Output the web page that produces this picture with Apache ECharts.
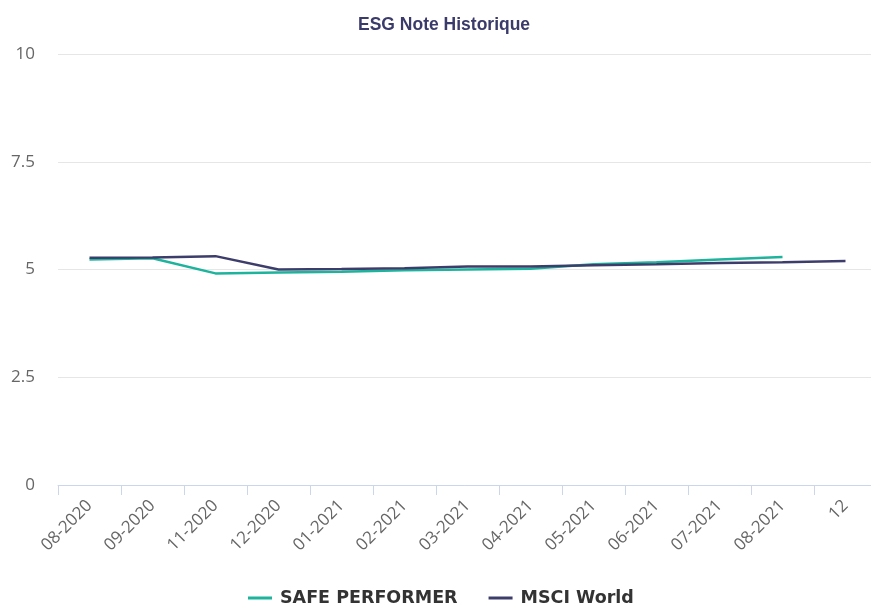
<!DOCTYPE html>
<html><head><meta charset="utf-8">
<script src="https://cdn.jsdelivr.net/npm/echarts@6/dist/echarts.min.js"></script>
<style>html,body{margin:0;padding:0;background:#fff}#c{width:871px;height:603px}</style>
</head><body><div id="c"></div>
<script>
const categories = ['08-2020','09-2020','11-2020','12-2020','01-2021','02-2021','03-2021','04-2021','05-2021','06-2021','07-2021','08-2021','12'];
const safePerformer = [5.23, 5.26, 4.91, 4.93, 4.95, 4.98, 5.0, 5.02, 5.12, 5.17, 5.23, 5.29, null];
const msciWorld = [5.27, 5.28, 5.31, 5.0, 5.01, 5.03, 5.07, 5.07, 5.1, 5.12, 5.15, 5.17, 5.2];
const yTicks = [0, 2.5, 5, 7.5, 10];

const chart = echarts.init(document.getElementById('c'), null, {renderer:'canvas'});
chart.setOption({
  animation:false,
  title:{text:'ESG Note Historique', left:353, top:11,
    textStyle:{fontFamily:'Liberation Sans, Arial', fontSize:17.5, fontWeight:'bold', color:'#3b3b6b'}},
  grid:{left:58, width:819, top:54, bottom:118, containLabel:false, outerBoundsMode:'none'},
  legend:{bottom:-9, left:243, icon:'rect', itemWidth:24, itemHeight:3, itemGap:31,
    textStyle:{fontFamily:'DejaVu Sans', fontSize:17.5, fontWeight:'bold', color:'#333', padding:[0,0,0,3]},
    data:['SAFE PERFORMER','MSCI World']},
  xAxis:{type:'category', data:categories, boundaryGap:true,
    axisLine:{lineStyle:{color:'#ccd6eb', width:1}},
    axisTick:{show:true, length:10, lineStyle:{color:'#ccd6eb'}},
    axisLabel:{rotate:45, margin:18, color:'#666', fontFamily:'Open Sans', fontSize:17}},
  yAxis:{type:'value', min:0, max:10, interval:2.5,
    axisLine:{show:false}, axisTick:{show:false},
    splitLine:{lineStyle:{color:'#e6e6e6'}},
    axisLabel:{margin:23, color:'#666', fontFamily:'Open Sans', fontSize:17,
      formatter:v=> yTicks.includes(v) ? String(v) : ''}},
  series:[
    {name:'SAFE PERFORMER', type:'line', data:safePerformer, showSymbol:false, symbol:'none',
     lineStyle:{color:'#1db39c', width:2.5}, itemStyle:{color:'#1db39c'}},
    {name:'MSCI World', type:'line', data:msciWorld, showSymbol:false, symbol:'none',
     lineStyle:{color:'#3d3d6b', width:2.5}, itemStyle:{color:'#3d3d6b'}}
  ]
});
</script></body></html>
